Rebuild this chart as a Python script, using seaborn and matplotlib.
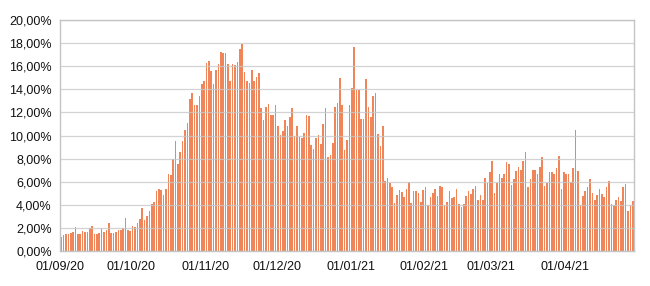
import matplotlib
matplotlib.use("Agg")
import matplotlib.pyplot as plt
import seaborn as sns
import pandas as pd
import numpy as np
from matplotlib.ticker import FuncFormatter

# Daily values (%) from 01/09/20 to 29/04/21
sep = [1.2, 1.35, 1.5, 1.5, 1.55, 1.65, 2.1, 1.45, 1.45, 1.7, 1.65, 1.65, 2.0, 2.2, 1.5,
       1.45, 1.55, 1.95, 1.65, 1.8, 2.4, 1.6, 1.6, 1.65, 1.8, 1.8, 1.95, 2.9, 1.8, 1.7]
oct_ = [2.15, 2.1, 2.4, 2.75, 3.75, 2.65, 3.0, 3.5, 4.1, 4.25, 5.2, 5.4, 5.3, 4.85, 5.4, 6.65,
        6.6, 8.0, 9.5, 7.5, 8.55, 9.5, 10.5, 11.1, 13.2, 13.7, 12.65, 12.6, 13.4, 14.5, 14.75]
nov = [16.3, 16.45, 15.55, 14.45, 15.7, 16.2, 17.25, 17.1, 17.15, 16.15, 14.7, 16.2, 16.1, 16.4,
       17.45, 17.95, 15.5, 14.7, 14.55, 15.7, 14.7, 15.05, 15.4, 12.4, 11.3, 12.5, 12.7, 11.75,
       11.75, 12.6]
dec = [10.8, 10.05, 10.35, 11.35, 10.85, 11.6, 12.4, 10.0, 10.85, 9.9, 9.8, 10.2, 11.8, 11.65,
       9.15, 8.85, 9.8, 10.05, 9.25, 11.0, 12.4, 8.1, 8.3, 9.35, 12.5, 12.8, 15.0, 12.65, 8.75,
       9.6, 12.65]
jan = [14.15, 17.65, 13.9, 13.9, 11.4, 11.4, 14.9, 12.5, 11.6, 13.4, 13.7, 10.1, 9.05, 10.8,
       6.05, 6.3, 5.85, 5.55, 4.15, 4.85, 5.25, 5.15, 4.7, 5.4, 6.0, 4.15, 5.2, 5.2, 5.05, 4.25,
       5.25]
feb = [5.5, 4.0, 4.7, 5.05, 5.35, 4.8, 5.65, 5.55, 3.95, 4.2, 5.2, 4.6, 4.7, 5.4, 4.1, 3.8, 4.1,
       4.75, 5.2, 4.95, 5.4, 5.65, 4.4, 4.85, 4.45, 6.35, 5.9, 6.8]
mar = [7.75, 5.05, 5.85, 6.7, 6.35, 6.65, 7.7, 7.55, 5.7, 6.25, 6.9, 7.3, 7.0, 7.8, 8.6, 5.5,
       6.25, 7.05, 7.05, 6.7, 7.3, 8.15, 5.6, 5.85, 6.8, 6.8, 6.65, 7.2, 8.25, 5.35, 6.85]
apr = [6.7, 6.65, 6.0, 7.2, 10.45, 6.9, 4.0, 4.8, 5.2, 5.5, 6.25, 5.05, 4.45, 4.85, 5.35, 4.9,
       4.7, 5.5, 6.1, 4.1, 3.95, 4.45, 4.7, 4.3, 5.5, 5.8, 3.45, 4.0, 4.35]

month_labels = ["01/09/20", "01/10/20", "01/11/20", "01/12/20", "01/01/21",
                "01/02/21", "01/03/21", "01/04/21"]
months = [sep, oct_, nov, dec, jan, feb, mar, apr]

values = [v for m in months for v in m]
day = np.arange(len(values))
df = pd.DataFrame({"day": day, "value": values})

month_starts = np.cumsum([0] + [len(m) for m in months[:-1]])

sns.set_style("white")
plt.rcParams["font.family"] = ["Liberation Sans", "DejaVu Sans"]

fig = plt.figure(figsize=(6.5, 2.86), dpi=100)
ax = fig.add_axes([60 / 650, 1 - 251 / 286, 574 / 650, 231 / 286])

sns.barplot(data=df, x="day", y="value", native_scale=True, ax=ax,
            color="#EF8558", linewidth=0, width=0.68,
            saturation=1, errorbar=None)

ax.set_xlim(-0.5, len(values) - 0.5)
ax.set_ylim(0, 20)
ax.set_yticks(np.arange(0, 21, 2))
ax.yaxis.set_major_formatter(FuncFormatter(lambda v, p: f"{v:.2f}".replace(".", ",") + "%"))
ax.set_xticks(month_starts - 0.5)
ax.set_xticklabels(month_labels)
ax.set_xlabel("")
ax.set_ylabel("")

ax.grid(axis="y", color="#c8c8c8", linewidth=0.9, alpha=0.8)
ax.set_axisbelow(False)
for s in ax.spines.values():
    s.set_color("#c4c4c4")
    s.set_linewidth(1.0)
    s.set_zorder(5)

ax.tick_params(axis="both", which="major", length=4, width=1, color="#b8b8b8",
               labelsize=9, labelcolor="#111111", pad=2, direction="out")
ax.tick_params(axis="x", pad=3)

fig.savefig("out.png", dpi=100)
